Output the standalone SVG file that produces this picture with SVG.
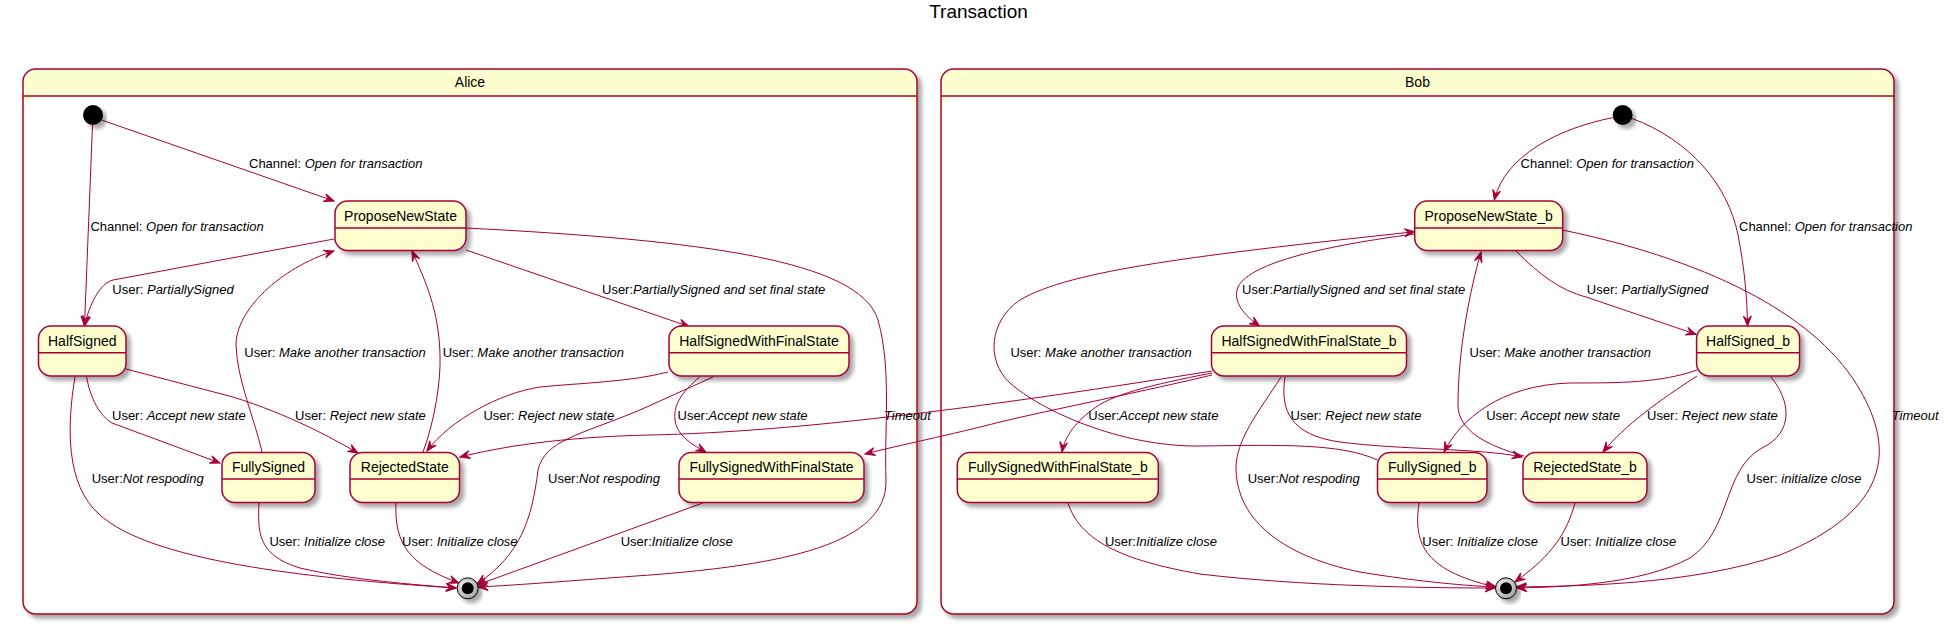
<svg xmlns="http://www.w3.org/2000/svg" width="1948" height="624" viewBox="0 0 1948 624">
<defs>
<style>
.box{fill:#FEFECE;stroke:#A80036;stroke-width:1.5}
.div{stroke:#A80036;stroke-width:1.5}
.nt{font-family:"Liberation Sans",Arial,sans-serif;font-size:14px;fill:#000;text-anchor:middle}
.lb{font-family:"Liberation Sans",Arial,sans-serif;font-size:13px;fill:#000}
.it{font-style:italic}
.e{fill:none;stroke:#A80036;stroke-width:1;marker-end:url(#ah)}
.body{fill:#fff;stroke:none}
</style>
<marker id="ah" viewBox="-11 -6 12 12" refX="0" refY="0" markerWidth="12" markerHeight="12" orient="auto" markerUnits="userSpaceOnUse">
<path d="M0,0 L-10,-4 L-6,0 L-10,4 Z" fill="#A80036" stroke="#A80036" stroke-width="1"/>
</marker>
<filter id="sh" x="-10%" y="-10%" width="130%" height="140%">
<feGaussianBlur in="SourceAlpha" stdDeviation="2"/>
<feOffset dx="4" dy="4" result="o"/>
<feComponentTransfer><feFuncA type="linear" slope="0.35"/></feComponentTransfer>
<feMerge><feMergeNode/><feMergeNode in="SourceGraphic"/></feMerge>
</filter>
<radialGradient id="endg" cx="0.4" cy="0.4" r="0.7">
<stop offset="0" stop-color="#ffffff"/>
<stop offset="1" stop-color="#999999"/>
</radialGradient>
</defs>
<rect width="1948" height="624" fill="#fff"/>
<text x="978.5" y="18" font-family="Liberation Sans,Arial,sans-serif" font-size="19" text-anchor="middle">Transaction</text>

<g id="Alice">
<rect class="box" x="23" y="69" width="894" height="545" rx="12.5" filter="url(#sh)"/>
<rect class="body" x="25" y="97.5" width="890" height="514.5" rx="9"/>
<line class="div" x1="23" y1="96" x2="917" y2="96"/>
<text class="nt" x="470" y="87">Alice</text>
</g>
<g id="Bob">
<rect class="box" x="941" y="69" width="953" height="545" rx="12.5" filter="url(#sh)"/>
<rect class="body" x="943" y="97.5" width="949" height="514.5" rx="9"/>
<line class="div" x1="941" y1="96" x2="1894" y2="96"/>
<text class="nt" x="1417.5" y="87">Bob</text>
</g>

<g id="connectors">
<path class="e" d="M101.6,120 L334,201"/>
<path class="e" d="M92.5,125 L84.5,326"/>
<path class="e" d="M334,239 L113,280 C100,283 89,305 84.5,326"/>
<path class="e" d="M86.7,377 C90,398 100,416 112,423 L220,463"/>
<path class="e" d="M126,369 L233,397 C290,415 330,437 358,453"/>
<path class="e" d="M262,452 C255,420 237,380 236,345 C236,310 280,268 334,251"/>
<path class="e" d="M423,452 C435,420 441,380 440,355 C439,310 425,280 412,251"/>
<path class="e" d="M466,250 L689,326.5"/>
<path class="e" d="M466,228 C700,240 860,260 878,320 C892,370 884,430 886,480 C888,545 780,565 650,575 C580,580 520,585 478,587"/>
<path class="e" d="M668,372 C630,382 580,383 540,387 C500,393 450,420 427,451"/>
<path class="e" d="M713,377 L640,410 C580,435 545,440 538,470 C532,520 520,555 477,584"/>
<path class="e" d="M699.5,377 C685,390 673,402 675,420 C677,437 695,446 706,452"/>
<path class="e" d="M259,502 C258,530 256,555 300,568 C350,580 420,585 456,588"/>
<path class="e" d="M396,502 C394,545 410,565 459,583"/>
<path class="e" d="M703.6,502.7 L477,585"/>
<path class="e" d="M75,377 C67,425 65,485 100,515 C150,560 300,578 456,588"/>

<path class="e" d="M1612.6,117.7 C1560,128 1505,155 1494.3,200"/>
<path class="e" d="M1631.7,118.3 C1690,140 1728,185 1738,235 C1745,270 1747,300 1747.6,326"/>
<path class="e" d="M1516,251 C1540,275 1560,290 1586,297 L1696,334.3"/>
<path class="e" d="M1562.5,230 C1720,263 1820,320 1860,390 C1895,450 1890,510 1780,555 C1690,585 1580,586 1516,587"/>
<path class="e" d="M1377.5,460 C1340,443 1280,445 1200,446 C1120,447 1040,410 1010,383 C985,360 990,320 1020,300 C1070,270 1200,255 1414.7,231.7"/>
<path class="e" d="M1414.7,234 C1330,245 1250,262 1238,287 C1232,302 1245,316 1259.6,326"/>
<path class="e" d="M1212,373 C1150,385 1110,395 1092,410 C1072,425 1064,440 1062,452"/>
<path class="e" d="M1212,371 C1000,405 800,432 650,435 C560,437 500,447 460,457"/>
<path class="e" d="M1212,375 C1150,390 1050,410 1000,422 C950,435 900,445 865,454"/>
<path class="e" d="M1285,377 C1280,410 1290,435 1340,442 C1400,450 1480,448 1522,457"/>
<path class="e" d="M1281,377 C1260,410 1235,440 1236,470 C1238,530 1300,560 1360,572 C1420,582 1470,586 1496,587"/>
<path class="e" d="M1697,370 C1660,383 1620,383 1570,383 C1500,385 1460,420 1444,452"/>
<path class="e" d="M1697,376 C1660,400 1625,425 1603,452"/>
<path class="e" d="M1771,377 C1790,400 1795,432 1762,448 C1722,470 1732,530 1690,558 C1640,585 1560,587 1517,588"/>
<path class="e" d="M1419,503 C1414,540 1420,570 1496,587"/>
<path class="e" d="M1575,503 C1565,540 1545,560 1515,582"/>
<path class="e" d="M1524,456 C1485,445 1458,430 1458,405 C1458,350 1470,290 1481,252"/>
<path class="e" d="M1068,503 C1080,540 1120,560 1200,574 C1300,586 1420,588 1495,588"/>

<text class="lb" x="249" y="168">Channel: <tspan class="it">Open for transaction</tspan></text>
<text class="lb" x="90.4" y="231">Channel: <tspan class="it">Open for transaction</tspan></text>
<text class="lb" x="112.3" y="294">User: <tspan class="it">PartiallySigned</tspan></text>
<text class="lb" x="602" y="294">User:<tspan class="it">PartiallySigned and set final state</tspan></text>
<text class="lb" x="244.3" y="357">User: <tspan class="it">Make another transaction</tspan></text>
<text class="lb" x="442.7" y="357">User: <tspan class="it">Make another transaction</tspan></text>
<text class="lb" x="112" y="420">User: <tspan class="it">Accept new state</tspan></text>
<text class="lb" x="295" y="420">User: <tspan class="it">Reject new state</tspan></text>
<text class="lb" x="483.4" y="420">User: <tspan class="it">Reject new state</tspan></text>
<text class="lb" x="677.5" y="420">User:<tspan class="it">Accept new state</tspan></text>
<text class="lb it" x="884" y="420">Timeout</text>
<text class="lb" x="91.7" y="483">User:<tspan class="it">Not respoding</tspan></text>
<text class="lb" x="548" y="483">User:<tspan class="it">Not respoding</tspan></text>
<text class="lb" x="269.4" y="546">User: <tspan class="it">Initialize close</tspan></text>
<text class="lb" x="402" y="546">User: <tspan class="it">Initialize close</tspan></text>
<text class="lb" x="620.7" y="546">User:<tspan class="it">Initialize close</tspan></text>

<text class="lb" x="1520.6" y="168">Channel: <tspan class="it">Open for transaction</tspan></text>
<text class="lb" x="1739" y="231">Channel: <tspan class="it">Open for transaction</tspan></text>
<text class="lb" x="1242" y="294">User:<tspan class="it">PartiallySigned and set final state</tspan></text>
<text class="lb" x="1586.8" y="294">User: <tspan class="it">PartiallySigned</tspan></text>
<text class="lb" x="1010.4" y="357">User: <tspan class="it">Make another transaction</tspan></text>
<text class="lb" x="1469.5" y="357">User: <tspan class="it">Make another transaction</tspan></text>
<text class="lb" x="1088.3" y="420">User:<tspan class="it">Accept new state</tspan></text>
<text class="lb" x="1290.6" y="420">User: <tspan class="it">Reject new state</tspan></text>
<text class="lb" x="1486.2" y="420">User: <tspan class="it">Accept new state</tspan></text>
<text class="lb" x="1647" y="420">User: <tspan class="it">Reject new state</tspan></text>
<text class="lb it" x="1891.7" y="420">Timeout</text>
<text class="lb" x="1247.7" y="483">User:<tspan class="it">Not respoding</tspan></text>
<text class="lb" x="1746.6" y="483">User: <tspan class="it">initialize close</tspan></text>
<text class="lb" x="1104.9" y="546">User:<tspan class="it">Initialize close</tspan></text>
<text class="lb" x="1422.3" y="546">User: <tspan class="it">Initialize close</tspan></text>
<text class="lb" x="1560.6" y="546">User: <tspan class="it">Initialize close</tspan></text>
</g>

<g id="AliceStart"><circle cx="93" cy="115" r="10" fill="#000" filter="url(#sh)"/></g>
<g id="AliceEnd"><circle cx="467.7" cy="588.3" r="10.5" fill="url(#endg)" stroke="#000" stroke-width="1" filter="url(#sh)"/><circle cx="467.7" cy="588.3" r="6" fill="#000"/></g>
<g id="BobStart"><circle cx="1622.6" cy="115" r="10" fill="#000" filter="url(#sh)"/></g>
<g id="BobEnd"><circle cx="1506" cy="588.3" r="10.5" fill="url(#endg)" stroke="#000" stroke-width="1" filter="url(#sh)"/><circle cx="1506" cy="588.3" r="6" fill="#000"/></g>

<g id="ProposeNewState"><rect class="box" x="335" y="201" width="131" height="49.5" rx="12.5" filter="url(#sh)"/><line class="div" x1="335" y1="228" x2="466" y2="228"/><text class="nt" x="400.5" y="220.5">ProposeNewState</text></g>
<g id="HalfSigned"><rect class="box" x="38.5" y="326" width="87.5" height="50" rx="12.5" filter="url(#sh)"/><line class="div" x1="38.5" y1="352.7" x2="126" y2="352.7"/><text class="nt" x="82.25" y="345.5">HalfSigned</text></g>
<g id="FullySigned"><rect class="box" x="222" y="452.5" width="93" height="50" rx="12.5" filter="url(#sh)"/><line class="div" x1="222" y1="479" x2="315" y2="479"/><text class="nt" x="268.5" y="472">FullySigned</text></g>
<g id="RejectedState"><rect class="box" x="350" y="452.5" width="109.5" height="50" rx="12.5" filter="url(#sh)"/><line class="div" x1="350" y1="479" x2="459.5" y2="479"/><text class="nt" x="404.75" y="472">RejectedState</text></g>
<g id="HalfSignedWithFinalState"><rect class="box" x="669" y="326" width="180" height="50" rx="12.5" filter="url(#sh)"/><line class="div" x1="669" y1="352.7" x2="849" y2="352.7"/><text class="nt" x="759" y="345.5">HalfSignedWithFinalState</text></g>
<g id="FullySignedWithFinalState"><rect class="box" x="679" y="452.5" width="185" height="50" rx="12.5" filter="url(#sh)"/><line class="div" x1="679" y1="479" x2="864" y2="479"/><text class="nt" x="771.5" y="472">FullySignedWithFinalState</text></g>

<g id="ProposeNewState_b"><rect class="box" x="1414.7" y="201" width="148" height="49.5" rx="12.5" filter="url(#sh)"/><line class="div" x1="1414.7" y1="228" x2="1562.7" y2="228"/><text class="nt" x="1488.7" y="220.5">ProposeNewState_b</text></g>
<g id="HalfSignedWithFinalState_b"><rect class="box" x="1211.5" y="326" width="195" height="50" rx="12.5" filter="url(#sh)"/><line class="div" x1="1211.5" y1="352.7" x2="1406.5" y2="352.7"/><text class="nt" x="1309" y="345.5">HalfSignedWithFinalState_b</text></g>
<g id="HalfSigned_b"><rect class="box" x="1696.6" y="326" width="103" height="50" rx="12.5" filter="url(#sh)"/><line class="div" x1="1696.6" y1="352.7" x2="1799.6" y2="352.7"/><text class="nt" x="1748.1" y="345.5">HalfSigned_b</text></g>
<g id="FullySignedWithFinalState_b"><rect class="box" x="957.3" y="452.5" width="201" height="50" rx="12.5" filter="url(#sh)"/><line class="div" x1="957.3" y1="479" x2="1158.3" y2="479"/><text class="nt" x="1057.8" y="472">FullySignedWithFinalState_b</text></g>
<g id="FullySigned_b"><rect class="box" x="1377.5" y="452.5" width="109.5" height="50" rx="12.5" filter="url(#sh)"/><line class="div" x1="1377.5" y1="479" x2="1487" y2="479"/><text class="nt" x="1432.25" y="472">FullySigned_b</text></g>
<g id="RejectedState_b"><rect class="box" x="1523" y="452.5" width="124" height="50" rx="12.5" filter="url(#sh)"/><line class="div" x1="1523" y1="479" x2="1647" y2="479"/><text class="nt" x="1585" y="472">RejectedState_b</text></g>
</svg>
